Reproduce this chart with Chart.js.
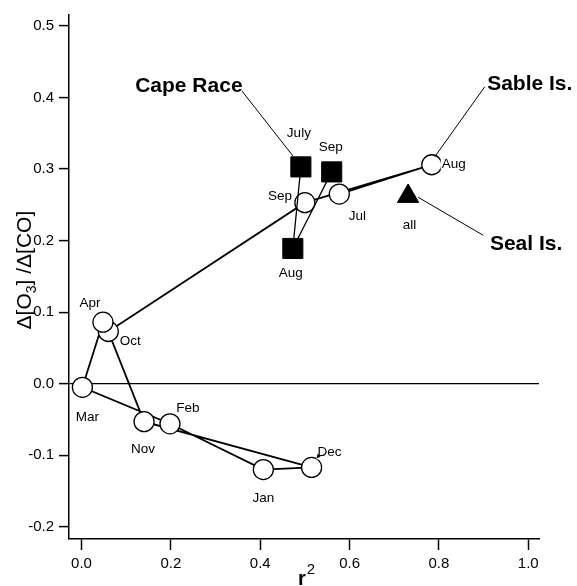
<!DOCTYPE html>
<html>
<head>
<meta charset="utf-8">
<title>O3/CO enhancement ratio vs r2</title>
<script src="https://cdn.jsdelivr.net/npm/chart.js@4.4.1/dist/chart.umd.min.js"></script>
<style>
  html, body { margin: 0; padding: 0; background: #fff; }
  canvas { display: block; }
</style>
</head>
<body>
<canvas id="ratioChart" width="577" height="586"></canvas>
<script>
// Monthly values in time order, July through April
const cycleMonths = ['Jul', 'Aug', 'Sep', 'Oct', 'Nov', 'Dec', 'Jan', 'Feb', 'Mar', 'Apr'];
const cycleR2 = [0.577, 0.784, 0.500, 0.060, 0.140, 0.515, 0.407, 0.198, 0.002, 0.048];
const cycleRatio = [0.265, 0.306, 0.253, 0.073, -0.053, -0.117, -0.120, -0.056, -0.005, 0.086];

// Cape Race summer months
const capeMonths = ['July', 'Aug', 'Sep'];
const capeR2 = [0.491, 0.473, 0.560];
const capeRatio = [0.303, 0.189, 0.296];

// Seal Is., all data together
const sealMonths = ['all'];
const sealR2 = [0.731];
const sealRatio = [0.262];

const xTicks = [0.0, 0.2, 0.4, 0.6, 0.8, 1.0];
const yTicks = [-0.2, -0.1, 0.0, 0.1, 0.2, 0.3, 0.4, 0.5];

const FONT = "'Liberation Sans', Arial, Helvetica, sans-serif";

// label placement, px offsets from the marker centre
const cycleLabelOffsets = [[18, 22], [22, 0], [-25, -6], [22, 10], [-1, 28], [18, -15], [0, 29], [18, -16], [5, 30], [-13, -19]];
const cycleLabelBg = [false, true, false, true, false, true, false, false, false, false];
const capeLabelOffsets = [[-2, -34], [-2, 25], [-1, -25]];
const sealLabelOffsets = [[1.5, 29]];

// station names with leader lines: [dataset, point, label offset, line start, line end]
const callouts = [
    { text: 'Cape Race', ds: 0, idx: 0, label: [-112, -81], from: [-59, -76], to: [-8, -11] },
    { text: 'Sable Is.', ds: 2, idx: 1, label: [98, -81], from: [53, -78], to: [3, -8] },
    { text: 'Seal Is.', ds: 1, idx: 0, label: [118, 48], from: [75, 39], to: [10, 1] }
];

function toPoints(xs, ys) {
    return xs.map((x, i) => ({ x: x, y: ys[i] }));
}

function drawText(ctx, text, x, y, font, bg) {
    ctx.font = font;
    ctx.textAlign = 'center';
    ctx.textBaseline = 'middle';
    if (bg) {
        const w = ctx.measureText(text).width;
        ctx.fillStyle = '#fff';
        ctx.fillRect(x - w / 2 - 1, y - 7, w + 2, 14);
    }
    ctx.fillStyle = '#000';
    ctx.fillText(text, x, y);
}

// month names, station names and leader lines
const labelPlugin = {
    id: 'siteLabels',
    afterDatasetsDraw(chart) {
        const ctx = chart.ctx;
        const small = '13.5px ' + FONT;
        const big = 'bold 21px ' + FONT;
        ctx.save();

        const cycle = chart.getDatasetMeta(2).data;
        cycleMonths.forEach((m, i) => {
            const o = cycleLabelOffsets[i];
            drawText(ctx, m, cycle[i].x + o[0], cycle[i].y + o[1], small, cycleLabelBg[i]);
        });
        // little arrow from the Dec label
        const dec = cycle[cycleMonths.indexOf('Dec')];
        ctx.fillStyle = '#000';
        ctx.beginPath();
        ctx.moveTo(dec.x + 5, dec.y - 9);
        ctx.lineTo(dec.x + 6, dec.y - 14);
        ctx.lineTo(dec.x + 9, dec.y - 11);
        ctx.closePath();
        ctx.fill();

        const cape = chart.getDatasetMeta(0).data;
        capeMonths.forEach((m, i) => {
            const o = capeLabelOffsets[i];
            drawText(ctx, m, cape[i].x + o[0], cape[i].y + o[1], small, false);
        });
        const seal = chart.getDatasetMeta(1).data;
        sealMonths.forEach((m, i) => {
            const o = sealLabelOffsets[i];
            drawText(ctx, m, seal[i].x + o[0], seal[i].y + o[1], small, false);
        });

        ctx.strokeStyle = '#000';
        ctx.lineWidth = 1;
        callouts.forEach(c => {
            const p = chart.getDatasetMeta(c.ds).data[c.idx];
            ctx.beginPath();
            ctx.moveTo(p.x + c.from[0], p.y + c.from[1]);
            ctx.lineTo(p.x + c.to[0], p.y + c.to[1]);
            ctx.stroke();
            drawText(ctx, c.text, p.x + c.label[0], p.y + c.label[1], big, false);
        });
        ctx.restore();
    },
    afterDraw(chart) {
        const ctx = chart.ctx;
        const area = chart.chartArea;
        ctx.save();
        ctx.fillStyle = '#000';
        ctx.textBaseline = 'alphabetic';
        ctx.textAlign = 'left';

        // y title with subscript
        const parts = [
            { t: '\u0394[O', f: '21px ' + FONT, dy: 0 },
            { t: '3', f: '14px ' + FONT, dy: 5 },
            { t: '] /\u0394[CO]', f: '21px ' + FONT, dy: 0 }
        ];
        let total = 0;
        parts.forEach(p => { ctx.font = p.f; p.w = ctx.measureText(p.t).width; total += p.w; });
        ctx.translate(31, (area.top + area.bottom) / 2 - 7);
        ctx.rotate(-Math.PI / 2);
        let x = -total / 2;
        parts.forEach(p => { ctx.font = p.f; ctx.fillText(p.t, x, p.dy); x += p.w; });
        ctx.setTransform(1, 0, 0, 1, 0, 0);

        // x title r^2
        const cx = (area.left + area.right) / 2;
        ctx.font = 'bold 20px ' + FONT;
        ctx.textAlign = 'center';
        ctx.fillText('r', cx - 2, 585);
        ctx.font = '15px ' + FONT;
        ctx.fillText('2', cx + 7, 574);
        ctx.restore();
    }
};

class RatioChart {
    constructor(canvasId) {
        this.ctx = document.getElementById(canvasId).getContext('2d');
        this.chart = new Chart(this.ctx, this.buildConfig());
    }

    buildDatasets() {
        return [
            {
                label: 'Cape Race',
                data: toPoints(capeR2, capeRatio),
                showLine: true,
                borderColor: '#000',
                borderWidth: 1.3,
                pointStyle: 'rect',
                pointRadius: 14.2,
                pointBackgroundColor: '#000',
                pointBorderColor: '#000',
                pointBorderWidth: 1,
                order: 0
            },
            {
                label: 'Seal Is.',
                data: toPoints(sealR2, sealRatio),
                pointStyle: 'triangle',
                pointRadius: 12.3,
                pointBackgroundColor: '#000',
                pointBorderColor: '#000',
                pointBorderWidth: 1,
                order: 1
            },
            {
                label: 'Monthly',
                data: toPoints(cycleR2, cycleRatio),
                showLine: true,
                borderColor: '#000',
                borderWidth: 1.8,
                pointStyle: 'circle',
                pointRadius: 10,
                pointBackgroundColor: '#fff',
                pointBorderColor: '#000',
                pointBorderWidth: 1.3,
                order: 2
            }
        ];
    }

    buildConfig() {
        const tickFont = { family: FONT, size: 15 };
        return {
            type: 'scatter',
            data: { datasets: this.buildDatasets() },
            plugins: [labelPlugin],
            options: {
                responsive: false,
                animation: false,
                events: [],
                layout: { padding: { left: 0, right: 38, top: 12, bottom: 0 } },
                plugins: { legend: { display: false }, tooltip: { enabled: false } },
                scales: {
                    x: {
                        type: 'linear',
                        min: -0.028,
                        max: 1.024,
                        afterBuildTicks: s => { s.ticks = xTicks.map(v => ({ value: v })); },
                        afterFit: s => { s.height = 47; },
                        ticks: { color: '#000', font: tickFont, padding: 5, callback: v => v.toFixed(1) },
                        grid: { drawOnChartArea: false, tickLength: 11, tickColor: '#000', tickWidth: 1.5 },
                        border: { color: '#000', width: 1.5 }
                    },
                    y: {
                        type: 'linear',
                        min: -0.217,
                        max: 0.515,
                        afterBuildTicks: s => { s.ticks = yTicks.map(v => ({ value: v })); },
                        afterFit: s => { s.width = 69; },
                        ticks: { color: '#000', font: tickFont, padding: 5, callback: v => v.toFixed(1) },
                        grid: {
                            // only the zero line is drawn across the plot
                            color: c => (c.tick && c.tick.value === 0 ? '#000' : 'rgba(0,0,0,0)'),
                            lineWidth: 1.2,
                            tickLength: 10,
                            tickColor: '#000',
                            tickWidth: 1.5
                        },
                        border: { color: '#000', width: 1.5 }
                    }
                }
            }
        };
    }
}

document.addEventListener('DOMContentLoaded', () => {
    const ratioChart = new RatioChart('ratioChart');
});
</script>
</body>
</html>
